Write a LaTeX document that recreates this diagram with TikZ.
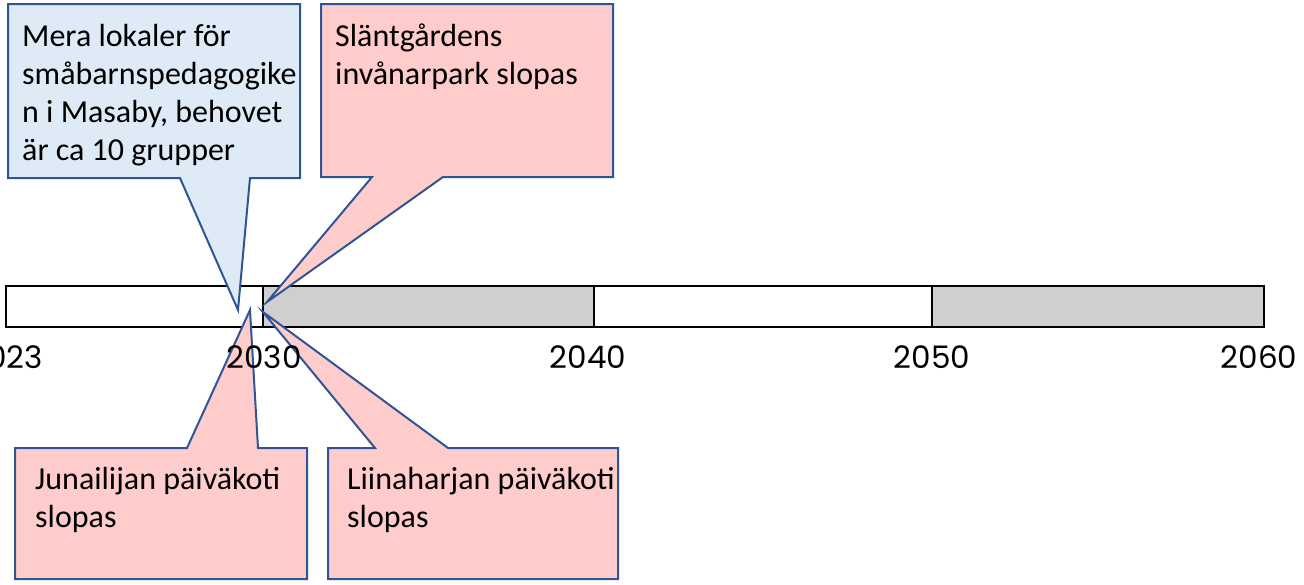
\documentclass[tikz,border=0pt]{standalone}
\usepackage{fontspec}
\setmainfont{Carlito}
\newfontfamily\yearfont{Poppins}
\usetikzlibrary{calc,positioning}
\definecolor{tlblue}{HTML}{DEEBF7}
\definecolor{tlpink}{HTML}{FFCCCC}
\definecolor{tledge}{HTML}{2F5597}
\definecolor{tlgray}{HTML}{D0CECE}

\begin{document}
\begin{tikzpicture}[x=1pt, y=-1pt,
    seg/.style={draw=black, line width=2.6pt},
    year/.style={font=\fontsize{31}{34}\selectfont\yearfont, inner sep=0pt},
    callout/.style={draw=tledge, line width=2pt, line join=miter},
    notetext/.style={font=\fontsize{32}{38}\selectfont, align=left,
      inner sep=0pt, anchor=north west}
  ]
  \useasboundingbox (0,0) rectangle (1304,584);

  % timeline bar
  \draw[seg, fill=white] (6,286) rectangle (263,327);
  \draw[seg, fill=tlgray] (263,286) rectangle (594,327);
  \draw[seg, fill=white] (594,286) rectangle (932,327);
  \draw[seg, fill=tlgray] (932,286) rectangle (1264,327);

  % callouts
  \coordinate (meratip) at (238,310);
  \coordinate (slanttip) at (267,302);
  \coordinate (junatip) at (250,310);
  \coordinate (liinatip) at (263,312);

  \draw[callout, fill=tlblue] (8,4) -- (300,4) -- (300,178) -- (250,178)
    -- (meratip) -- (180,178) -- (8,178) -- cycle;
  \draw[callout, fill=tlpink] (321,4) -- (613,4) -- (613,177) -- (443,177)
    -- (slanttip) -- (372,177) -- (321,177) -- cycle;
  \draw[callout, fill=tlpink] (15,448) -- (187,448) -- (junatip) -- (258,448)
    -- (307,448) -- (307,579) -- (15,579) -- cycle;
  \draw[callout, fill=tlpink] (328,448) -- (375,448) -- (liinatip) -- (448,448)
    -- (618,448) -- (618,579) -- (328,579) -- cycle;

  \node[notetext] (mera) at (22,24) {Mera lokaler för\\småbarnspedagogike\\n i Masaby, behovet\\är ca 10 grupper};
  \node[notetext] (slant) at (335,24) {Släntgårdens\\invånarpark slopas};
  \node[notetext] (juna) at (35,467) {Junailijan päiväkoti\\slopas};
  \node[notetext] (liina) at (347,467) {Liinaharjan päiväkoti\\slopas};

  % years on top
  \node[year] (y2023) at (6,357) {2023};
  \node[year] (y2030) at (264,357) {2030};
  \node[year] (y2040) at (588,357) {2040};
  \node[year] (y2050) at (932,357) {2050};
  \node[year] (y2060) at (1259,357) {2060};
\end{tikzpicture}
\end{document}
